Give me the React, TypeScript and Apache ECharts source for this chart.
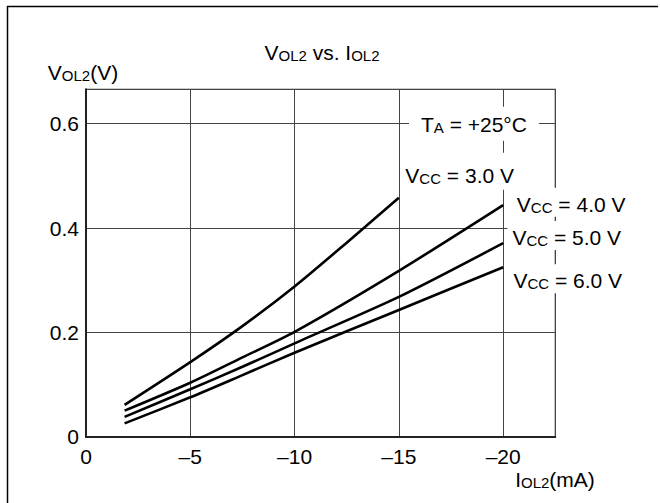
import React, { useEffect, useRef } from 'react';
import * as echarts from 'echarts';

// ---- data ----
const vcc3Current = [-1.85, -5, -7.5, -10, -12.5, -15];
const vcc3Vol = [0.061, 0.143, 0.212, 0.288, 0.372, 0.458];
const vccHighCurrent = [-1.85, -5, -7.5, -10, -15, -20];
const vcc4Vol = [0.05, 0.1035, 0.152, 0.201, 0.318, 0.444];
const vcc5Vol = [0.038, 0.091, 0.134, 0.179, 0.268, 0.371];
const vcc6Vol = [0.0256, 0.0755, 0.118, 0.161, 0.243, 0.325];
const seriesLabels = ['3.0 V', '4.0 V', '5.0 V', '6.0 V'];
const xTickStep = 5;
const yTickStep = 0.2;
const tempLabel = '+25°C';

const FONT = '"Liberation Sans", Arial, Helvetica, sans-serif';
const MAIN = 21;
const subStyle = { fontSize: 15, fontFamily: FONT, color: '#000', verticalAlign: 'bottom' as const, lineHeight: 15 };

// offsets of each Vcc label relative to the end of its curve (pixels)
const labelOffsets: [number, number][] = [
  [0.5, -26.5],
  [7.7, -2.9],
  [3.3, -7.7],
  [4.3, 11.6],
];
const labelPaddings: number[][] = [
  [12, 5, 4, 5],
  [6, 5, 2, 5],
  [6, 5, 2, 5],
  [6, 5, 2, 5],
];

function toPoints(cur: number[], vol: number[]) {
  // x axis shows current magnitude (drawn as negative labels)
  return cur.map((c, i) => [-c, vol[i]]);
}

function buildOption() {
  const curves = [
    toPoints(vcc3Current, vcc3Vol),
    toPoints(vccHighCurrent, vcc4Vol),
    toPoints(vccHighCurrent, vcc5Vol),
    toPoints(vccHighCurrent, vcc6Vol),
  ];
  const series = curves.map((pts, i) => {
    const last = pts[pts.length - 1];
    const markData: any[] = [
      {
        coord: last,
        label: {
          show: true,
          position: 'right',
          distance: 0,
          offset: labelOffsets[i],
          padding: labelPaddings[i],
          formatter: 'V{s|CC} = ' + seriesLabels[i],
        },
      },
    ];
    if (i === 3) {
      markData.push({
        coord: [18.6, 0.6],
        label: {
          show: true,
          position: 'inside',
          distance: 0,
          offset: [0, 0],
          padding: [7, 12, 6, 12],
          formatter: 'T{s|A} = ' + tempLabel,
        },
      });
    }
    return {
      type: 'line',
      name: 'VCC = ' + seriesLabels[i],
      data: pts,
      smooth: 0.25,
      showSymbol: false,
      symbol: 'none',
      silent: true,
      lineStyle: { color: '#000', width: 2.6 },
      z: 3,
      markPoint: {
        symbol: 'circle',
        symbolSize: 2,
        silent: true,
        itemStyle: { color: 'rgba(0,0,0,0)' },
        label: {
          show: true,
          color: '#000',
          fontSize: MAIN,
          lineHeight: MAIN,
          fontFamily: FONT,
          backgroundColor: '#fff',
          rich: { s: subStyle },
        },
        data: markData,
      },
    };
  });

  const nameText = (text: string, x: number, y: number) => ({
    type: 'text',
    silent: true,
    x,
    y,
    style: {
      text,
      fontSize: MAIN,
      lineHeight: MAIN,
      fontFamily: FONT,
      fill: '#000',
      align: 'center',
      verticalAlign: 'middle',
      rich: { s: subStyle },
    },
  });

  return {
    animation: false,
    backgroundColor: '#fff',
    grid: {
      left: 86,
      top: 89.3,
      width: 469.3,
      height: 347.4,
      show: true,
      borderColor: '#333',
      borderWidth: 1.2,
      backgroundColor: 'transparent',
    },
    xAxis: {
      type: 'value',
      min: 0,
      max: 22.5,
      interval: xTickStep,
      axisLine: { show: true, onZero: false, lineStyle: { color: '#222', width: 2 } },
      axisTick: { show: false },
      splitLine: { show: true, lineStyle: { color: '#444', width: 1 } },
      axisLabel: {
        show: true,
        margin: 9,
        showMaxLabel: false,
        color: '#000',
        fontSize: MAIN,
        fontFamily: FONT,
        formatter: (v: number) => (v === 0 ? '0' : '–' + v),
      },
    },
    yAxis: {
      type: 'value',
      min: 0,
      max: 0.666,
      interval: yTickStep,
      axisLine: { show: true, onZero: false, lineStyle: { color: '#222', width: 2 } },
      axisTick: { show: false },
      splitLine: { show: true, lineStyle: { color: '#444', width: 1 } },
      axisLabel: {
        show: true,
        margin: 7,
        showMaxLabel: false,
        color: '#000',
        fontSize: MAIN,
        fontFamily: FONT,
        formatter: (v: number) => (v === 0 ? '0' : v.toFixed(1)),
      },
    },
    graphic: [
      {
        type: 'line',
        silent: true,
        shape: { x1: 7, y1: 6.5, x2: 658, y2: 6.5 },
        style: { stroke: '#000', lineWidth: 1.5 },
      },
      {
        type: 'line',
        silent: true,
        shape: { x1: 7.5, y1: 6, x2: 7.5, y2: 503 },
        style: { stroke: '#000', lineWidth: 1.5 },
      },
      nameText('V{s|OL2} vs. I{s|OL2}', 322, 52.5),
      nameText('V{s|OL2}(V)', 83, 72.5),
      nameText('I{s|OL2}(mA)', 555, 479.5),
    ],
    series,
  };
}

export default function App() {
  const ref = useRef<HTMLDivElement>(null);
  useEffect(() => {
    if (!ref.current) return;
    const chart = echarts.init(ref.current, null, { renderer: 'svg' });
    chart.setOption(buildOption() as any);
    return () => chart.dispose();
  }, []);
  return (
    <div
      ref={ref}
      style={{ position: 'fixed', left: 0, top: 0, width: 660, height: 503, background: '#fff' }}
    />
  );
}
